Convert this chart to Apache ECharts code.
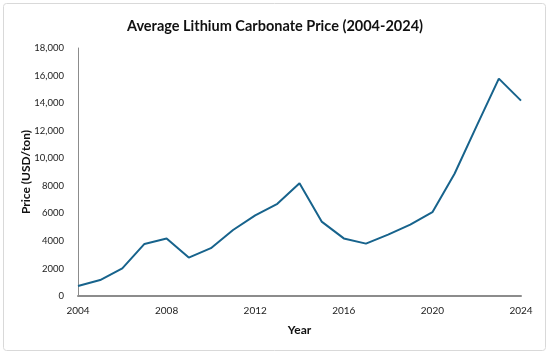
<!DOCTYPE html>
<html><head><meta charset="utf-8">
<script src="https://cdn.jsdelivr.net/npm/echarts@6/dist/echarts.min.js"></script>
<style>html,body{margin:0;padding:0;background:#fff}#c{width:550px;height:356px}</style>
</head><body><div id="c"></div>
<script>
const years = [2004,2005,2006,2007,2008,2009,2010,2011,2012,2013,2014,2015,2016,2017,2018,2019,2020,2021,2022,2023,2024];
const prices = [730,1160,2010,3780,4180,2790,3470,4790,5850,6690,8190,5400,4180,3800,4450,5180,6080,8870,12350,15780,14180];
const xTicks = [2004,2008,2012,2016,2020,2024];
const yTicks = [0,2000,4000,6000,8000,10000,12000,14000,16000,18000];
const FONT = 'Lato,"Liberation Sans",sans-serif';
const chart = echarts.init(document.getElementById('c'));
chart.setOption({
  animation:false,
  title:{text:'Average Lithium Carbonate Price (2004-2024)',left:'center',top:14,
    textStyle:{fontFamily:FONT,fontSize:14.5,fontWeight:'bold',color:'#111'}},
  graphic:[{type:'rect',shape:{x:3.5,y:3.5,width:542,height:347,r:3},
    style:{fill:'none',stroke:'#d9d9d9',lineWidth:1},silent:true,z:-1}],
  grid:{left:78,right:29,top:48,bottom:60},
  xAxis:{type:'value',min:xTicks[0],max:xTicks[xTicks.length-1],interval:4,
    name:'Year',nameLocation:'middle',nameGap:28,nameMoveOverlap:false,
    nameTextStyle:{fontFamily:FONT,fontSize:12,fontWeight:'bold',color:'#111'},
    axisLine:{lineStyle:{color:'#8c8c8c',width:2}},axisTick:{show:false},splitLine:{show:false},
    axisLabel:{fontFamily:FONT,fontSize:10,color:'#222',margin:10,formatter:v=>String(v)}},
  yAxis:{type:'value',min:yTicks[0],max:yTicks[yTicks.length-1],interval:2000,
    name:'Price (USD/ton)',nameLocation:'middle',nameGap:46,nameRotate:90,nameMoveOverlap:false,
    nameTextStyle:{fontFamily:FONT,fontSize:12,fontWeight:'bold',color:'#111'},
    axisLine:{show:true,lineStyle:{color:'#8c8c8c',width:1}},axisTick:{show:false},splitLine:{show:false},
    axisLabel:{fontFamily:FONT,fontSize:9.5,color:'#222',margin:14,
      formatter:v=> v>=10000 ? v.toLocaleString('en-US') : String(v)}},
  series:[{type:'line',data:years.map((y,i)=>[y,prices[i]]),showSymbol:false,
    lineStyle:{color:'#17638c',width:2},itemStyle:{color:'#17638c'}}]
});
</script></body></html>
